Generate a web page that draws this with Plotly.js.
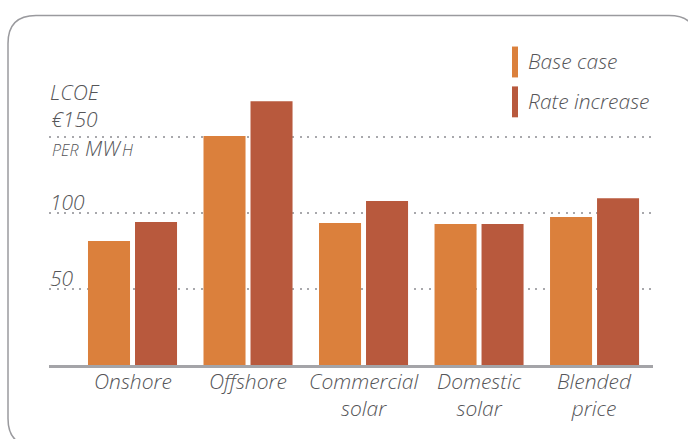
<!DOCTYPE html>
<html><head><meta charset="utf-8">
<script src="https://cdn.plot.ly/plotly-3.0.1.min.js"></script>
<style>html,body{margin:0;padding:0;background:#fff}#chart{width:688px;height:439px}</style>
</head><body><div id="chart"></div>
<script>
// ---- data ----
const categories = ["Onshore", "Offshore", "Commercial<br>solar", "Domestic<br>solar", "Blended<br>price"];
const baseCase = [81.5, 150.4, 93.3, 92.6, 97.2];
const rateIncrease = [93.9, 173.2, 107.7, 92.6, 109.6];
const seriesNames = ["Base case", "Rate increase"];
const yTickVals = [50, 100, 150];
const yTickText = ["50", "100", "LCOE<br>€150"];
const unitParts = ["PER", "MW", "H"];   // "per MWh" set in small capitals

// ---- layout constants (pixels) ----
const W = 688, H = 439;
const L = 49, R = 653, B = 365.4, T = 90.6;
const px = x => (x - L) / (R - L);
const py = y => (B - y) / (B - T);
const colors = ["#DB803C", "#B8593D"];
const textColor = "#555558";
const FAM = "'Open Sans', Lato, sans-serif";
const fnt = (size) => ({family: FAM, size: size, color: textColor, style: "italic", weight: 300});

const traces = [
  {type: "bar", name: seriesNames[0], x: categories, y: baseCase, marker: {color: colors[0]}, showlegend: false, hoverinfo: "x+y"},
  {type: "bar", name: seriesNames[1], x: categories, y: rateIncrease, marker: {color: colors[1]}, showlegend: false, hoverinfo: "x+y"}
];

const annotations = [];
// y tick labels (left-aligned, sitting on their gridline)
yTickVals.forEach((v, i) => {
  annotations.push({xref: "paper", yref: "y", x: 0, y: v, xanchor: "left", yanchor: "bottom",
    text: yTickText[i], showarrow: false, font: fnt(21), yshift: i === 2 ? 2.5 : -4, borderpad: 0});
});
// unit below the 150 gridline, small caps built from three pieces
const unitX = [51, 84, 121], unitSize = [16, 21, 16], unitShift = [-25, -26.3, -25];
unitParts.forEach((t, i) => {
  annotations.push({xref: "paper", yref: "y", x: px(unitX[i]), y: yTickVals[2], xanchor: "left", yanchor: "bottom",
    text: t, showarrow: false, font: fnt(unitSize[i]), yshift: unitShift[i], borderpad: 0});
});
// x category labels
categories.forEach((c) => {
  annotations.push({xref: "x", yref: "paper", x: c, y: 0, xanchor: "center", yanchor: "top",
    text: c, showarrow: false, font: fnt(21), yshift: -1, borderpad: 0});
});
// legend text
annotations.push({xref: "paper", yref: "paper", x: px(527), y: py(61), xanchor: "left", yanchor: "middle",
  text: seriesNames[0], showarrow: false, font: fnt(21), borderpad: 0});
annotations.push({xref: "paper", yref: "paper", x: px(527), y: py(100.5), xanchor: "left", yanchor: "middle",
  text: seriesNames[1], showarrow: false, font: fnt(21), borderpad: 0});

// rounded border
const bx0 = 8, by0 = 15, bx1 = 697, by1 = 447, r = 28;
const P = (x, y) => px(x) + "," + py(y);
const borderPath = "M" + P(bx0 + r, by0) + " L" + P(bx1 - r, by0) + " Q" + P(bx1, by0) + " " + P(bx1, by0 + r) +
  " L" + P(bx1, by1 - r) + " Q" + P(bx1, by1) + " " + P(bx1 - r, by1) +
  " L" + P(bx0 + r, by1) + " Q" + P(bx0, by1) + " " + P(bx0, by1 - r) +
  " L" + P(bx0, by0 + r) + " Q" + P(bx0, by0) + " " + P(bx0 + r, by0) + " Z";

const shapes = [
  {type: "path", xref: "paper", yref: "paper", path: borderPath, line: {color: "#9a9a9e", width: 1.5}, layer: "below"},
  {type: "rect", xref: "paper", yref: "paper", x0: px(512), x1: px(518), y0: py(46), y1: py(77), fillcolor: colors[0], line: {width: 0}},
  {type: "rect", xref: "paper", yref: "paper", x0: px(512), x1: px(518), y0: py(86), y1: py(117), fillcolor: colors[1], line: {width: 0}}
];

const layout = {
  width: W, height: H,
  margin: {l: L, r: W - R, t: T, b: H - B, pad: 0},
  paper_bgcolor: "#fff", plot_bgcolor: "#fff",
  barmode: "group", bargap: 0.186, bargroupgap: 0.106,
  xaxis: {type: "category", range: [-0.723, 4.506], showticklabels: false, ticks: "",
    showline: true, linecolor: "#a4a4a8", linewidth: 3, showgrid: false, zeroline: false, fixedrange: true},
  yaxis: {range: [0, 180], tickvals: yTickVals, showticklabels: false, ticks: "",
    showgrid: true, gridcolor: "#a8a8ac", gridwidth: 2, griddash: "2px,5.6px", zeroline: false, showline: false, fixedrange: true},
  annotations: annotations,
  shapes: shapes,
  showlegend: false
};

Plotly.newPlot("chart", traces, layout, {displayModeBar: false, staticPlot: true});
</script></body></html>
